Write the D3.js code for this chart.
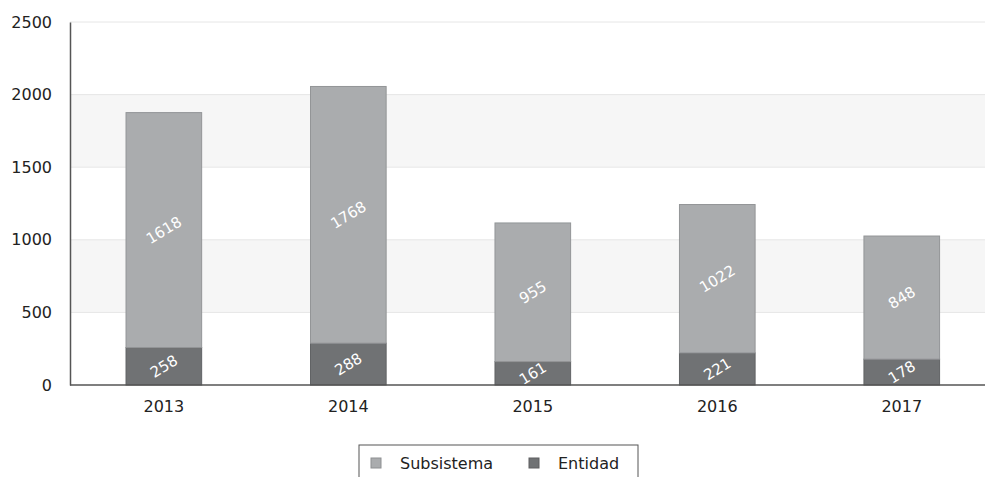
<!DOCTYPE html>
<html>
<head>
<meta charset="utf-8">
<script src="https://cdn.jsdelivr.net/npm/d3@7"></script>
<style>
body { margin: 0; background: #fff; }
svg { display: block; font-family: "DejaVu Sans", sans-serif; }
</style>
</head>
<body>
<svg class="canvas" width="985" height="477"></svg>
<script>
var years = ['2013', '2014', '2015', '2016', '2017']
var entidad = [258, 288, 161, 221, 178]
var subsistema = [1618, 1768, 955, 1022, 848]
var yTicks = [0, 500, 1000, 1500, 2000, 2500]
var seriesNames = ['Subsistema', 'Entidad']
var seriesColors = ['#aaacae', '#707274']

var svg = d3.select('.canvas')
var mLeft = 70, mRight = 994, mTop = 22, mBottom = 385

var x = d3.scaleBand().domain(years).range([mLeft + 1.6, mRight]).paddingInner(0.59).paddingOuter(0.295)
var y = d3.scaleLinear().domain([0, 2500]).range([mBottom, mTop])

// alternating bands
var bands = []
for (var i = 0; i < yTicks.length - 1; i++) bands.push([yTicks[i], yTicks[i + 1], i % 2])
svg.append('g').selectAll('rect').data(bands).enter().append('rect')
    .attr('x', mLeft)
    .attr('width', 985 - mLeft)
    .attr('y', d => y(d[1]))
    .attr('height', d => y(d[0]) - y(d[1]))
    .attr('fill', d => d[2] ? '#f6f6f6' : '#fff')

svg.append('g').selectAll('line').data(yTicks.slice(1)).enter().append('line')
    .attr('x1', mLeft).attr('x2', 985)
    .attr('y1', d => y(d)).attr('y2', d => y(d))
    .attr('stroke', '#e6e6e6')

var rows = years.map((yr, i) => ({ year: yr, ent: entidad[i], sub: subsistema[i] }))

var g = svg.append('g')
rows.forEach(function(d) {
    var bx = x(d.year), bw = x.bandwidth()
    var segs = [
        { v0: 0, v1: d.ent, val: d.ent, c: seriesColors[1] },
        { v0: d.ent, v1: d.ent + d.sub, val: d.sub, c: seriesColors[0] }
    ]
    segs.forEach(function(s) {
        g.append('rect')
            .attr('x', bx).attr('width', bw)
            .attr('y', y(s.v1)).attr('height', y(s.v0) - y(s.v1))
            .attr('fill', s.c)
            .attr('stroke', d3.color(s.c).darker(0.4))
            .attr('stroke-width', 1)
        var cx = bx + bw / 2, cy = (y(s.v0) + y(s.v1)) / 2
        g.append('text')
            .attr('transform', 'translate(' + cx + ',' + cy + ') rotate(-31)')
            .attr('text-anchor', 'middle')
            .attr('dy', '0.35em')
            .attr('fill', '#fff')
            .style('font-size', '15px')
            .text(s.val)
    })
})

// axes
var yAxis = svg.append('g').attr('transform', 'translate(' + mLeft + ',0)')
    .call(d3.axisLeft(y).tickValues(yTicks).tickFormat(d3.format('d')).tickSize(0).tickPadding(18))
yAxis.select('.domain').attr('stroke', '#555').attr('stroke-width', 1.5)
yAxis.selectAll('text').style('font-size', '16px').attr('fill', '#222').attr('font-family', 'DejaVu Sans')

var xAxis = svg.append('g').attr('transform', 'translate(0,' + mBottom + ')')
    .call(d3.axisBottom(x).tickSize(0).tickPadding(16))
xAxis.select('.domain').attr('d', 'M' + mLeft + ',0H985').attr('stroke', '#555').attr('stroke-width', 1.5)
xAxis.selectAll('text').style('font-size', '16px').attr('fill', '#222').attr('font-family', 'DejaVu Sans')

// legend
var lg = svg.append('g')
lg.append('rect').attr('x', 359).attr('y', 445).attr('width', 279).attr('height', 40)
    .attr('fill', '#fff').attr('stroke', '#555')
var lx = [371, 529]
seriesNames.forEach(function(n, i) {
    lg.append('rect').attr('x', lx[i]).attr('y', 458).attr('width', 10).attr('height', 10)
        .attr('fill', seriesColors[i]).attr('stroke', d3.color(seriesColors[i]).darker(0.5))
    lg.append('text').attr('x', lx[i] + 29).attr('y', 469)
        .style('font-size', '16px').attr('fill', '#222').text(n)
})
</script>
</body>
</html>
